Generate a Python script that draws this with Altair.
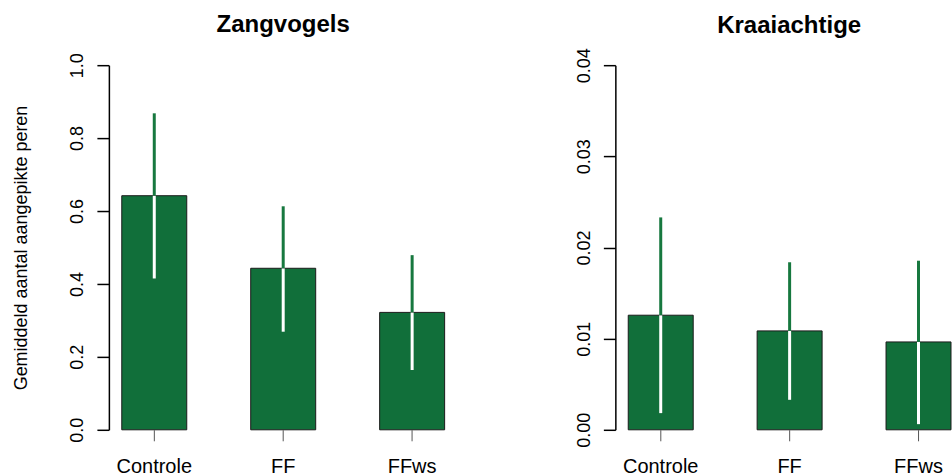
import altair as alt
import pandas as pd

# Behandelingen en gemiddelden met betrouwbaarheidsgrenzen per vogelgroep
categories = ["Controle", "FF", "FFws"]

zang_mean = [0.642, 0.443, 0.322]
zang_lower = [0.415, 0.269, 0.164]
zang_upper = [0.868, 0.613, 0.479]
zang_ticks = [0.0, 0.2, 0.4, 0.6, 0.8, 1.0]

kraai_mean = [0.01257, 0.01085, 0.00964]
kraai_lower = [0.00183, 0.00329, 0.00062]
kraai_upper = [0.02330, 0.01838, 0.01855]
kraai_ticks = [0.0, 0.01, 0.02, 0.03, 0.04]

BAR_GREEN = "#116f3a"
WHISKER_GREEN = "#17783f"
FONT = "Liberation Sans"
PLOT_H = 365


def panel(title, mean, lower, upper, ticks, fmt, width, pad_outer, align,
          y_title="", title_dx=0, title_offset=10):
    df = pd.DataFrame({"groep": categories, "gem": mean, "lo": lower, "hi": upper})

    x = alt.X(
        "groep:N",
        sort=categories,
        title=None,
        scale=alt.Scale(paddingInner=0.496, paddingOuter=pad_outer, align=align),
        axis=alt.Axis(
            labelAngle=0, domain=False, grid=False,
            tickSize=11, tickColor="#555555", tickWidth=1,
            labelFont=FONT, labelFontSize=20, labelColor="black", labelPadding=16,
        ),
    )

    axis_kwargs = dict(
        values=ticks, format=fmt, grid=False,
        domainColor="black", domainWidth=1.5,
        tickColor="black", tickWidth=1.5, tickSize=12,
        labelAngle=270, labelAlign="center", labelBaseline="alphabetic",
        labelPadding=14, labelFont=FONT, labelFontSize=18, labelColor="black",
    )
    if y_title:
        axis_kwargs.update(
            title=y_title, titleAngle=270, titleX=-87, titleY=PLOT_H / 2,
            titleAlign="center", titleBaseline="middle",
            titleFont=FONT, titleFontSize=18, titleFontWeight="normal",
            titleColor="black",
        )
    else:
        axis_kwargs.update(title=None)

    y_scale = alt.Scale(domain=[ticks[0], ticks[-1]], nice=False, zero=True)

    bars = alt.Chart(df).mark_bar(
        fill=BAR_GREEN, stroke="#1a1a1a", strokeWidth=1
    ).encode(
        x=x,
        y=alt.Y("gem:Q", scale=y_scale, axis=alt.Axis(**axis_kwargs)),
    )

    lower_part = alt.Chart(df).mark_rule(
        color="white", strokeWidth=3, strokeCap="butt"
    ).encode(x=alt.X("groep:N", sort=categories), y="lo:Q", y2="gem:Q")

    upper_part = alt.Chart(df).mark_rule(
        color=WHISKER_GREEN, strokeWidth=3, strokeCap="butt"
    ).encode(x=alt.X("groep:N", sort=categories), y="gem:Q", y2="hi:Q")

    return alt.layer(bars, lower_part, upper_part).properties(
        width=width,
        height=PLOT_H,
        title=alt.TitleParams(
            title, font=FONT, fontSize=24, fontWeight="bold", color="black",
            anchor="middle", frame="group", offset=title_offset, dx=title_dx,
        ),
    )


left = panel("Zangvogels", zang_mean, zang_lower, zang_upper, zang_ticks, ".1f",
             width=349, pad_outer=0.1, align=0.5,
             y_title="Gemiddeld aantal aangepikte peren", title_offset=16)
right = panel("Kraaiachtige", kraai_mean, kraai_lower, kraai_upper, kraai_ticks, ".2f",
              width=336, pad_outer=0.05, align=1, title_dx=6, title_offset=10)

chart = alt.hconcat(
    left, right, spacing=158, bounds="flush",
    padding={"left": 13, "top": 12, "right": 0, "bottom": 0},
    autosize=alt.AutoSizeParams(type="pad"),
    background="white",
).configure_view(stroke=None)

chart.save("out.html", embed_options={"renderer": "svg", "actions": False})
